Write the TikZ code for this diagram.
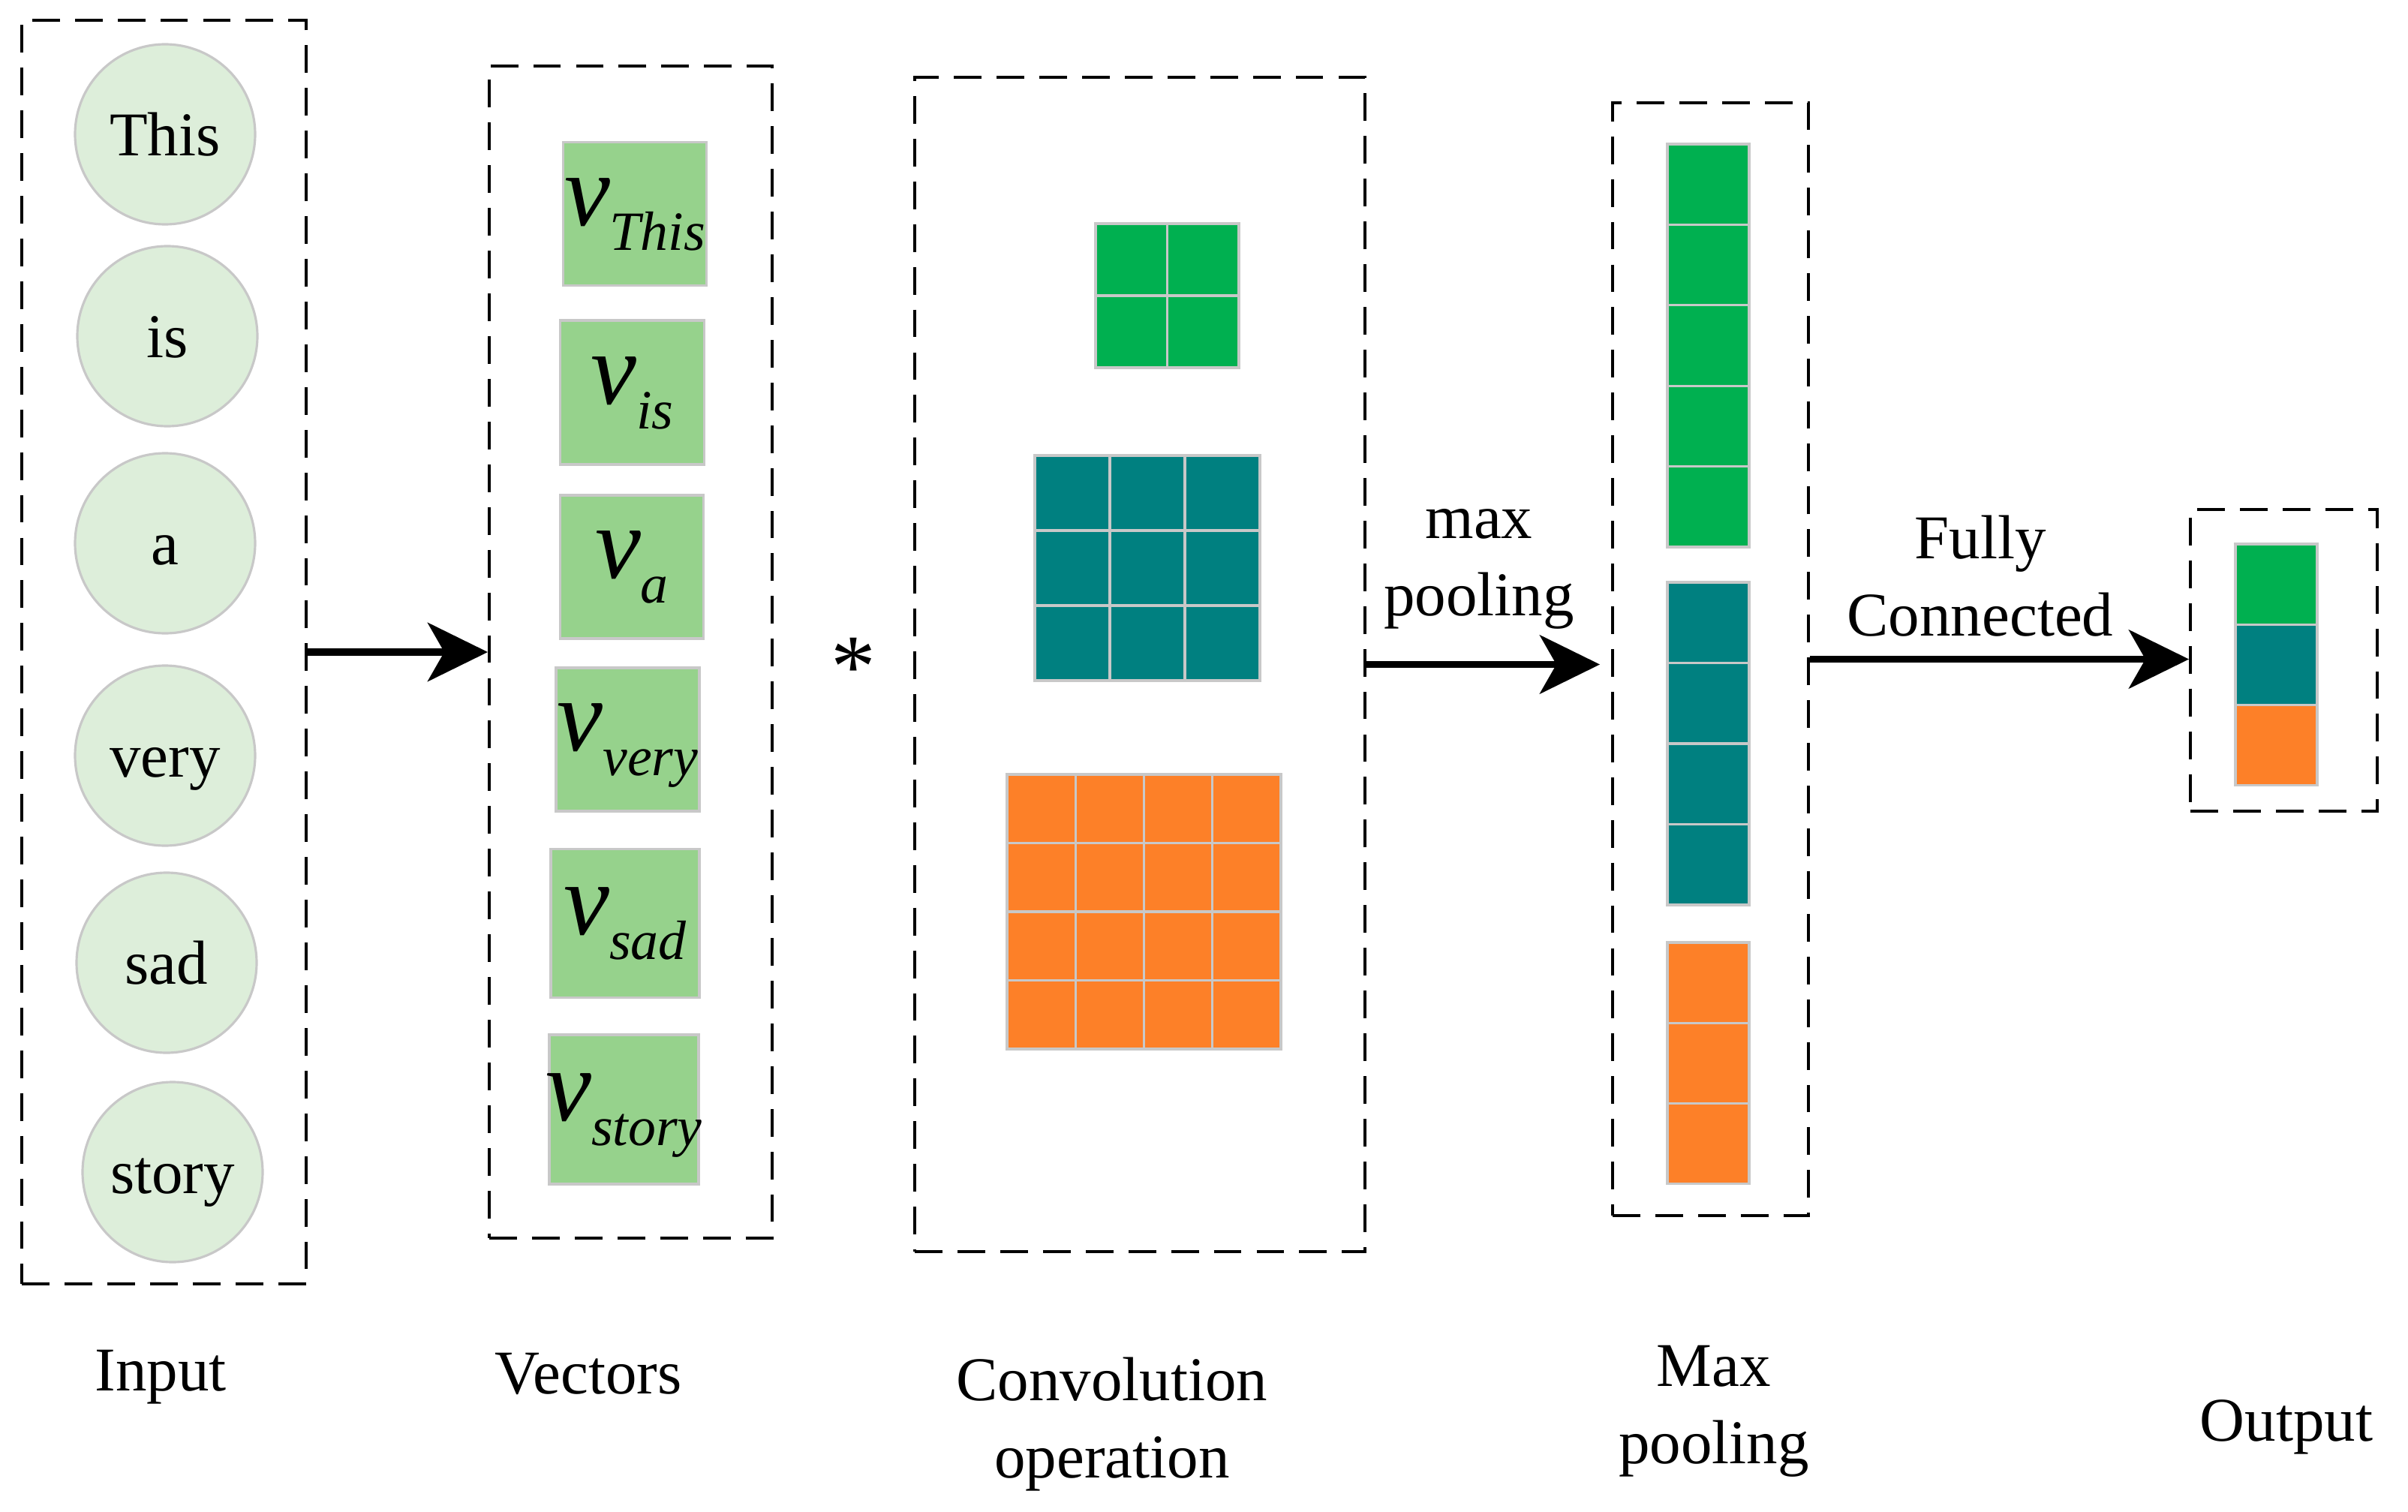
\documentclass[tikz,border=0pt]{standalone}
\usepackage{fontspec}
\setmainfont{Liberation Serif}
\usepackage{xcolor}
\usepackage{tikz}
\usetikzlibrary{arrows.meta}
\usetikzlibrary{calc}
\definecolor{wordfill}{HTML}{DDEEDA}
\definecolor{vecfill}{RGB}{150,210,140}
\definecolor{cellgray}{RGB}{200,200,200}
\definecolor{kgreen}{HTML}{00B050}
\definecolor{kteal}{HTML}{008080}
\definecolor{korange}{RGB}{253,128,40}

\newcommand{\wvec}[1]{\makebox[0pt][c]{{\fontsize{39}{39}\selectfont\itshape v}\raisebox{-0.33cm}{\fontsize{21}{22}\selectfont\itshape #1}}}

\tikzset{
  every node/.style={font=\fontsize{23.6}{29.3}\selectfont},
  stage/.style={draw=black, line width=1.1pt, dash pattern=on 10.5pt off 5.7pt, inner sep=0pt},
  word/.style={circle, draw=cellgray, line width=0.9pt, fill=wordfill, minimum size=2.4cm, inner sep=0pt, text height=0.57cm, text depth=0cm},
  vecbox/.style={rectangle, draw=cellgray, line width=0.9pt, fill=vecfill, inner sep=0pt, text height=0.7cm, text depth=0.4cm},
  cell/.style={draw=cellgray, line width=0.9pt},
  flow/.style={line width=2.8pt, -{Stealth[length=0.8cm, width=0.78cm, inset=0.22cm]}},
  caption/.style={align=center, anchor=base, inner sep=0pt}
}

\begin{document}
\begin{tikzpicture}[x=1cm,y=1cm]
\useasboundingbox (0,0) rectangle (32.09,-20.15);

% dashed stage frames
\node[stage, minimum width=3.79cm, minimum height=16.84cm] (inbox) at (2.185,-8.69) {};
\node[stage, minimum width=3.77cm, minimum height=15.62cm] (vecbox) at (8.405,-8.69) {};
\node[stage, minimum width=6.00cm, minimum height=15.65cm] (convbox) at (15.19,-8.855) {};
\node[stage, minimum width=2.61cm, minimum height=14.83cm] (poolbox) at (22.795,-8.785) {};
\node[stage, minimum width=2.49cm, minimum height=4.02cm] (outbox) at (30.435,-8.80) {};

% input words
\foreach \w/\x/\y in {This/2.20/-1.79, is/2.23/-4.48, a/2.20/-7.24, very/2.20/-10.07, sad/2.22/-12.83, story/2.30/-15.62}
  \node[word] (w\w) at (\x,\y) {\w};

% word vectors
\foreach \w/\x/\y/\s in {This/8.46/-2.85/1.91cm, is/8.425/-5.23/1.92cm, a/8.42/-7.555/1.91cm, very/8.365/-9.855/1.91cm, sad/8.33/-12.305/1.98cm, story/8.315/-14.785/1.99cm}
  \node[vecbox, minimum size=\s] (v\w) at (\x,\y) {\wvec{\w}};

\node[anchor=base, inner sep=0pt, font=\fontsize{34}{34}\selectfont] (star) at (11.37,-9.28) {*};

% convolution kernels
\foreach \i in {0,1} \foreach \j in {0,1}
  \filldraw[cell, fill=kgreen] ({14.60+0.955*\i},{-2.98-0.96*\j}) rectangle ++(0.955,-0.96);
\foreach \i in {0,1,2} \foreach \j in {0,1,2}
  \filldraw[cell, fill=kteal] ({13.79+1.0*\i},{-6.07-1.0*\j}) rectangle ++(1.0,-1.0);
\foreach \i in {0,...,3} \foreach \j in {0,...,3}
  \filldraw[cell, fill=korange] ({13.42+0.9125*\i},{-10.32-0.915*\j}) rectangle ++(0.9125,-0.915);

% pooled features
\foreach \j in {0,...,4}
  \filldraw[cell, fill=kgreen] (22.22,{-1.92-1.074*\j}) rectangle ++(1.09,-1.074);
\foreach \j in {0,...,3}
  \filldraw[cell, fill=kteal] (22.22,{-7.76-1.075*\j}) rectangle ++(1.09,-1.075);
\foreach \j in {0,...,2}
  \filldraw[cell, fill=korange] (22.22,{-12.56-1.073*\j}) rectangle ++(1.09,-1.073);

% output
\filldraw[cell, fill=kgreen] (29.79,-7.25) rectangle ++(1.09,-1.073);
\filldraw[cell, fill=kteal] (29.79,-8.323) rectangle ++(1.09,-1.073);
\filldraw[cell, fill=korange] (29.79,-9.396) rectangle ++(1.09,-1.073);

% arrows
\draw[flow] (inbox.east) -- (vecbox.west);
\draw[flow] (convbox.east) -- ([xshift=-0.15cm]convbox.east -| poolbox.west);
\draw[flow] (poolbox.east) -- (poolbox.east -| outbox.west);
\node[caption] (maxlbl) at (19.71,-8.20) {max\\pooling};
\node[caption] (fclbl) at (26.39,-8.47) {Fully\\Connected};

% captions
\node[caption] (incap) at (2.14,-18.53) {Input};
\node[caption] (veccap) at (7.84,-18.57) {Vectors};
\node[caption] (convcap) at (14.82,-19.69) {Convolution\\operation};
\node[caption] (poolcap) at (22.84,-19.50) {Max\\pooling};
\node[caption] (outcap) at (30.47,-19.20) {Output};
\end{tikzpicture}
\end{document}
